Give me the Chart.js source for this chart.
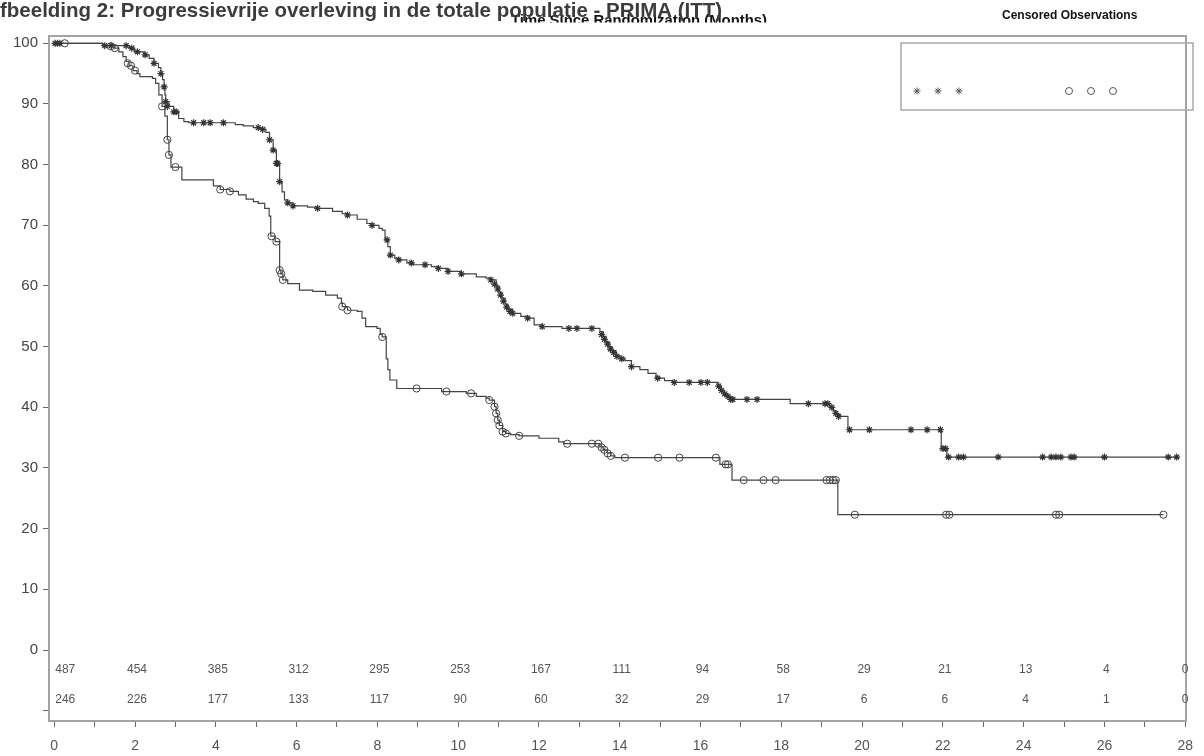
<!DOCTYPE html>
<html><head><meta charset="utf-8">
<script src="https://cdn.jsdelivr.net/npm/chart.js@4.4.1/dist/chart.umd.min.js"></script>
<style>html,body{margin:0;padding:0;background:#fff;overflow:hidden}#wrap{position:relative;width:1204px;height:756px}</style>
</head><body><div id="wrap"><canvas id="c" width="1204" height="756"></canvas></div>
<script>
// ---------- DATA ----------
const titleText = "fbeelding 2: Progressievrije overleving in de totale populatie - PRIMA (ITT)";
const xAxisText = "Time Since Randomization (Months)";
const legendTitle = "Censored Observations";

const xTicks = [0,1,2,3,4,5,6,7,8,9,10,11,12,13,14,15,16,17,18,19,20,21,22,23,24,25,26,27,28];
const yTicks = [-10,0,10,20,30,40,50,60,70,80,90,100];

// Kaplan-Meier step curve, upper arm (month, % progression-free)
const treatCurve = [[0,100],[1.20,99.6],[1.86,99.2],[1.98,98.6],[2.23,98.1],[2.35,97.5],[2.47,96.7],[2.58,96.0],[2.64,95.0],[2.68,94.0],[2.72,92.8],[2.74,91.5],[2.76,90.4],[2.84,89.6],[2.96,88.7],[3.08,87.6],[3.21,87.1],[3.33,86.9],[4.48,86.6],[4.68,86.4],[4.93,86.1],[5.10,85.8],[5.24,85.3],[5.33,84.1],[5.42,82.4],[5.50,80.2],[5.58,77.2],[5.64,75.5],[5.70,74.2],[5.78,73.7],[5.91,73.2],[6.27,73.0],[6.52,72.8],[6.89,72.3],[7.13,71.9],[7.26,71.7],[7.50,71.0],[7.74,70.3],[7.87,70.0],[8.04,69.5],[8.12,69.2],[8.19,67.6],[8.26,66.5],[8.32,65.1],[8.43,64.6],[8.53,64.3],[8.73,63.8],[8.89,63.5],[9.34,63.2],[9.51,62.9],[9.75,62.4],[10.08,62.0],[10.45,61.5],[10.69,61.3],[10.81,61.0],[10.94,60.0],[11.01,59.0],[11.08,58.0],[11.16,57.0],[11.23,56.2],[11.35,55.5],[11.55,55.0],[11.72,54.7],[11.88,53.6],[12.08,53.3],[12.57,53.0],[13.51,52.5],[13.59,51.7],[13.66,50.8],[13.73,50.0],[13.81,49.3],[13.91,48.5],[14.01,48.1],[14.13,47.7],[14.29,46.7],[14.50,46.2],[14.70,45.6],[14.90,44.8],[15.11,44.4],[15.31,44.1],[16.43,43.5],[16.51,42.8],[16.58,42.2],[16.66,41.8],[16.75,41.3],[18.22,40.6],[19.20,40.0],[19.28,39.4],[19.36,38.8],[19.45,38.5],[19.65,36.3],[21.96,33.2],[22.10,31.8],[27.80,31.8]];

// Kaplan-Meier step curve, lower arm
const obsCurve = [[0,100],[1.20,99.6],[1.50,99.2],[1.60,98.6],[1.70,97.8],[1.78,97.0],[1.85,96.3],[1.95,95.5],[2.05,95.0],[2.12,94.5],[2.43,94.2],[2.51,93.4],[2.59,91.5],[2.67,89.6],[2.74,88.0],[2.80,84.1],[2.84,81.6],[2.89,79.6],[3.16,77.5],[3.94,76.5],[4.11,75.9],[4.35,75.6],[4.56,75.0],[4.75,74.3],[4.93,73.9],[5.05,73.6],[5.21,72.8],[5.32,71.5],[5.36,68.2],[5.47,67.3],[5.58,62.6],[5.61,62.0],[5.66,61.0],[5.78,60.4],[6.07,59.3],[6.40,59.1],[6.72,58.5],[7.01,58.0],[7.11,57.2],[7.13,56.6],[7.26,56.0],[7.50,55.8],[7.62,54.7],[7.71,53.3],[7.99,53.0],[8.07,52.0],[8.12,51.6],[8.22,48.0],[8.26,46.2],[8.31,44.5],[8.48,43.1],[9.59,42.6],[10.20,42.3],[10.45,41.8],[10.69,41.5],[10.77,41.2],[10.90,40.1],[10.94,39.0],[10.98,37.9],[11.02,37.0],[11.10,36.0],[11.18,35.7],[11.30,35.5],[11.51,35.3],[12.00,34.9],[12.49,34.3],[12.61,34.0],[13.51,33.5],[13.59,33.0],[13.69,32.5],[13.78,32.0],[13.88,31.7],[16.48,30.6],[16.78,28.0],[19.40,22.3],[27.46,22.3]];

// Censored observations (stars: upper arm, circles: lower arm)
const treatCensored = [[0.02,100],[0.08,100],[0.14,100],[1.25,99.6],[1.41,99.6],[1.78,99.6],[1.92,99.2],[2.06,98.6],[2.25,98.1],[2.47,96.7],[2.64,95.0],[2.72,92.8],[2.76,90.4],[2.80,89.6],[2.96,88.7],[3.02,88.7],[3.45,86.9],[3.70,86.9],[3.86,86.9],[4.19,86.9],[5.05,86.1],[5.16,85.8],[5.33,84.1],[5.42,82.4],[5.50,80.2],[5.53,80.2],[5.58,77.2],[5.78,73.7],[5.91,73.2],[6.52,72.8],[7.26,71.7],[7.87,70.0],[8.24,67.6],[8.32,65.1],[8.53,64.3],[8.84,63.8],[9.18,63.5],[9.51,62.9],[9.75,62.4],[10.08,62.0],[10.81,61.0],[10.90,60.3],[10.98,59.5],[11.05,58.5],[11.12,57.5],[11.20,56.5],[11.28,55.8],[11.35,55.5],[11.72,54.7],[12.08,53.3],[12.74,53.0],[12.94,53.0],[13.31,53.0],[13.55,52.0],[13.62,51.2],[13.70,50.4],[13.77,49.6],[13.85,49.0],[13.93,48.4],[14.05,48.0],[14.29,46.7],[14.94,44.8],[15.35,44.1],[15.72,44.1],[16.01,44.1],[16.17,44.1],[16.45,43.5],[16.52,42.8],[16.60,42.2],[16.68,41.8],[16.75,41.3],[16.80,41.3],[17.15,41.3],[17.40,41.3],[18.67,40.6],[19.08,40.6],[19.15,40.6],[19.25,40.0],[19.35,39.0],[19.42,38.5],[19.69,36.3],[20.18,36.3],[21.21,36.3],[21.61,36.3],[21.94,36.3],[22.00,33.2],[22.07,33.2],[22.14,31.8],[22.39,31.8],[22.51,31.8],[23.37,31.8],[24.47,31.8],[24.68,31.8],[24.80,31.8],[24.92,31.8],[25.17,31.8],[25.25,31.8],[26.00,31.8],[27.58,31.8],[27.79,31.8]];

const obsCensored = [[0.26,100],[1.40,99.5],[1.50,99.2],[1.82,96.7],[1.90,96.3],[2.00,95.5],[2.67,89.6],[2.80,84.1],[2.84,81.6],[3.00,79.6],[4.11,75.9],[4.35,75.6],[5.38,68.2],[5.50,67.3],[5.58,62.6],[5.62,62.0],[5.66,61.0],[7.13,56.6],[7.26,56.0],[8.12,51.6],[8.97,43.1],[9.71,42.6],[10.32,42.3],[10.77,41.2],[10.90,40.1],[10.94,39.0],[10.98,37.9],[11.02,37.0],[11.10,36.0],[11.18,35.7],[11.51,35.3],[12.70,34.0],[13.31,34.0],[13.47,34.0],[13.55,33.4],[13.62,33.0],[13.70,32.4],[13.78,32.0],[14.13,31.7],[14.95,31.7],[15.48,31.7],[16.38,31.7],[16.62,30.6],[16.68,30.6],[17.07,28.0],[17.56,28.0],[17.86,28.0],[19.12,28.0],[19.20,28.0],[19.28,28.0],[19.35,28.0],[19.82,22.3],[22.08,22.3],[22.16,22.3],[24.80,22.3],[24.88,22.3],[27.46,22.3]];

// Numbers at risk
const atRiskTimes = [0,2,4,6,8,10,12,14,16,18,20,22,24,26,28];
const atRiskRow1 = [487,454,385,312,295,253,167,111,94,58,29,21,13,4,0];
const atRiskRow2 = [246,226,177,133,117,90,60,32,29,17,6,6,4,1,0];
const atRiskLevels = [-3.3,-8.25];

// ---------- CHART ----------
const toXY = arr => arr.map(p => ({x:p[0], y:p[1]}));
const FONT = '"Liberation Sans", Arial, sans-serif';
const LINE = '#444';

const decor = {
  id:'decor',
  beforeDatasetsDraw(chart){
    const ctx=chart.ctx, a=chart.chartArea;
    ctx.save();
    ctx.strokeStyle='#a3a3a3'; ctx.lineWidth=2;
    ctx.strokeRect(a.left, a.top, a.right-a.left, a.bottom-a.top);
    // legend box
    ctx.lineWidth=1.5; ctx.strokeStyle='#a8a8a8';
    ctx.strokeRect(901, 43, 292, 67);
    ctx.restore();
  },
  afterDraw(chart){
    const ctx=chart.ctx, xs=chart.scales.x, ys=chart.scales.y;
    ctx.save();
    // at-risk numbers
    ctx.fillStyle='#555'; ctx.font='12px '+FONT; ctx.textAlign='center'; ctx.textBaseline='middle';
    atRiskTimes.forEach((t,i)=>{
      let x = xs.getPixelForValue(t)+2; if(i===0) x+=9; if(i===atRiskTimes.length-1) x-=2;
      ctx.fillText(String(atRiskRow1[i]), x, ys.getPixelForValue(atRiskLevels[0]));
      ctx.fillText(String(atRiskRow2[i]), x, ys.getPixelForValue(atRiskLevels[1]));
    });
    // overlapping axis caption (partly hidden)
    ctx.save();
    ctx.beginPath(); ctx.rect(0,0,1204,22.5); ctx.clip();
    ctx.fillStyle='#111'; ctx.font='bold 15px '+FONT; ctx.textAlign='left'; ctx.textBaseline='alphabetic';
    ctx.fillText(xAxisText, 511, 25, 256);
    ctx.restore();
    // title
    ctx.fillStyle='#3c3c3c'; ctx.font='bold 20.5px '+FONT; ctx.textAlign='left'; ctx.textBaseline='alphabetic';
    ctx.fillText(titleText, 0, 17, 724);
    // legend title
    ctx.fillStyle='#111'; ctx.font='bold 12px '+FONT;
    ctx.fillText(legendTitle, 1002, 19, 140);
    // legend symbols
    ctx.strokeStyle='#555'; ctx.lineWidth=1;
    [917,938,959].forEach(x=>{
      const r=3.5; ctx.beginPath();
      for(let k=0;k<4;k++){const ang=k*Math.PI/4; ctx.moveTo(x-r*Math.cos(ang),91-r*Math.sin(ang)); ctx.lineTo(x+r*Math.cos(ang),91+r*Math.sin(ang));}
      ctx.stroke();
    });
    [1069,1091,1113].forEach(x=>{ctx.beginPath(); ctx.arc(x,91,3.5,0,Math.PI*2); ctx.stroke();});
    ctx.restore();
  }
};

new Chart(document.getElementById('c'), {
  type:'scatter',
  data:{datasets:[
    {label:'upper arm', data:toXY(treatCurve), showLine:true, stepped:'before', borderColor:LINE, borderWidth:1.2, pointRadius:0, order:3},
    {label:'lower arm', data:toXY(obsCurve), showLine:true, stepped:'before', borderColor:LINE, borderWidth:1.2, pointRadius:0, order:4},
    {label:'upper censored', data:toXY(treatCensored), showLine:false, pointStyle:'star', pointRadius:3.5, borderColor:'#333', borderWidth:1.2, backgroundColor:'#333', clip:false, order:1},
    {label:'lower censored', data:toXY(obsCensored), showLine:false, pointStyle:'circle', pointRadius:3.6, borderColor:'#444', borderWidth:1, backgroundColor:'rgba(255,255,255,0)', clip:false, order:2}
  ]},
  options:{
    responsive:false, animation:false, devicePixelRatio:1,
    layout:{padding:{top:36,right:8,left:0,bottom:0}},
    plugins:{legend:{display:false}, tooltip:{enabled:false}, title:{display:false}},
    scales:{
      x:{type:'linear', min:-0.13, max:28.02,
        afterBuildTicks(s){ s.ticks = xTicks.map(v=>({value:v})); },
        afterFit(s){ s.height = 35; },
        border:{display:false},
        grid:{drawOnChartArea:false, drawTicks:true, tickLength:6, color:'#666'},
        ticks:{autoSkip:false, maxRotation:0, padding:11, color:'#555', font:{family:FONT, size:14},
          callback:(v)=> (v%2===0 ? String(v) : '')}
      },
      y:{type:'linear', min:-11.7, max:101.2,
        afterBuildTicks(s){ s.ticks = yTicks.map(v=>({value:v})); },
        afterFit(s){ s.width = 49; },
        border:{display:false},
        grid:{drawOnChartArea:false, drawTicks:true, tickLength:6, color:'#666'},
        ticks:{autoSkip:false, padding:5, color:'#444', font:{family:FONT, size:15},
          callback:(v)=> (v<0 ? '' : String(v))}
      }
    }
  },
  plugins:[decor]
});
</script></body></html>
